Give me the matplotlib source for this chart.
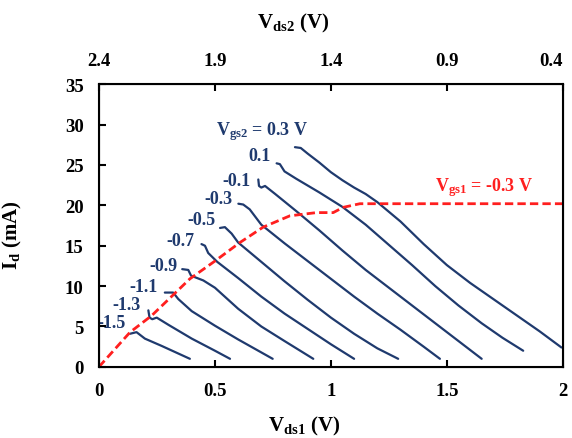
import numpy as np
import matplotlib
matplotlib.use('Agg')
import matplotlib.pyplot as plt

plt.rcParams.update({'font.family': 'Liberation Serif', 'font.weight': 'bold', 'font.size': 13,
                     'axes.labelweight': 'bold',
                     'mathtext.fontset': 'custom', 'mathtext.rm': 'Liberation Serif:bold',
                     'mathtext.it': 'Liberation Serif:bold', 'mathtext.bf': 'Liberation Serif:bold'})

# curvas Id x Vds1 para cada Vgs2
vgs2 = ['0.3', '0.1', '-0.1', '-0.3', '-0.5', '-0.7', '-0.9', '-1.1', '-1.3', '-1.5']
vds1 = [
    [0.845, 0.87, 0.90, 0.95, 1.0, 1.05, 1.10, 1.15, 1.20, 1.30, 1.40, 1.50, 1.60, 1.70, 1.80, 1.90, 1.994],
    [0.766, 0.78, 0.80, 0.85, 0.95, 1.05, 1.15, 1.25, 1.35, 1.45, 1.55, 1.65, 1.74, 1.829],
    [0.687, 0.69, 0.70, 0.716, 0.76, 0.85, 0.95, 1.05, 1.15, 1.25, 1.35, 1.45, 1.55, 1.65],
    [0.601, 0.622, 0.65, 0.70, 0.80, 0.90, 1.0, 1.1, 1.2, 1.3, 1.4, 1.47],
    [0.522, 0.543, 0.572, 0.60, 0.70, 0.80, 0.90, 1.0, 1.1, 1.2, 1.29],
    [0.442, 0.457, 0.471, 0.51, 0.60, 0.70, 0.80, 0.90, 1.0, 1.10],
    [0.359, 0.385, 0.397, 0.414, 0.45, 0.50, 0.60, 0.70, 0.80, 0.924],
    [0.284, 0.32, 0.342, 0.40, 0.50, 0.60, 0.749],
    [0.213, 0.218, 0.23, 0.249, 0.30, 0.40, 0.50, 0.565],
    [0.134, 0.162, 0.198, 0.27, 0.392],
]
id_ma = [
    [27.2, 27.1, 26.4, 25.3, 24.1, 23.1, 22.2, 21.4, 20.4, 18.0, 15.2, 12.6, 10.4, 8.4, 6.4, 4.4, 2.4],
    [25.2, 25.1, 24.2, 23.3, 21.6, 19.8, 17.6, 15.1, 12.6, 10.0, 7.6, 5.4, 3.6, 2.0],
    [23.2, 22.4, 22.2, 22.4, 21.4, 19.3, 16.9, 14.4, 12.0, 9.8, 7.6, 5.4, 3.2, 1.0],
    [20.2, 20.1, 19.5, 17.6, 15.3, 13.1, 10.9, 8.7, 6.6, 4.6, 2.5, 1.0],
    [17.2, 17.3, 16.5, 15.4, 13.0, 10.6, 8.3, 6.1, 4.1, 2.3, 1.0],
    [15.2, 15.0, 14.1, 13.0, 11.0, 8.7, 6.6, 4.7, 2.8, 1.0],
    [12.1, 12.0, 11.3, 11.1, 10.7, 9.8, 7.2, 5.0, 3.2, 1.0],
    [9.2, 9.2, 8.4, 6.9, 5.1, 3.4, 1.0],
    [7.0, 6.1, 5.9, 6.1, 5.2, 3.5, 2.0, 1.0],
    [4.1, 4.3, 3.5, 2.6, 1.0],
]
# posicao dos rotulos (Vds1, Id)
lab_x = [0.703, 0.692, 0.593, 0.515, 0.44, 0.353, 0.277, 0.19, 0.119, 0.056]
lab_y = [29.2, 26.2, 23.1, 20.8, 18.2, 15.7, 12.5, 9.95, 7.67, 5.45]

# Vgs1 = -0.3 V
vgs1_x = [0.0, 0.134, 0.227, 0.392, 0.5, 0.608, 0.708, 0.823, 0.938, 1.01, 1.053, 1.125, 2.0]
vgs1_y = [0.0, 4.29, 6.34, 10.9, 13.1, 15.4, 17.3, 18.7, 19.1, 19.1, 19.75, 20.2, 20.2]

xticks = [0, 0.5, 1, 1.5, 2]
xticklabels = ['0', '0.5', '1', '1.5', '2']
vds2_labels = ['2.4', '1.9', '1.4', '0.9', '0.4']

azul = '#1f3a6e'
vermelho = '#ff1f1f'

fig = plt.figure(figsize=(5.72, 4.39), dpi=100)
ax = fig.add_axes([0.173, 0.162, 0.811, 0.644])

for i in range(len(vgs2)):
    ax.plot(vds1[i], id_ma[i], color=azul, lw=1.6, solid_capstyle='round', solid_joinstyle='round')
    txt = vgs2[i]
    if i == 0:
        txt = r'$\mathrm{V_{gs2}}$ = 0.3 V'
    ax.text(lab_x[i], lab_y[i], txt, color=azul, ha='center', va='center', fontsize=13, zorder=1)

ax.plot(vgs1_x, vgs1_y, color=vermelho, lw=2, linestyle=(0, (3, 1.5)))
ax.text(1.66, 22.3, r'$\mathrm{V_{gs1}}$ = -0.3 V', color=vermelho, ha='center', va='center', fontsize=13)

ax.set_xlim(0, 2)
ax.set_ylim(0, 35)
ax.set_xticks(xticks)
ax.set_xticklabels(xticklabels)
ax.set_yticks(np.arange(0, 36, 5))
ax.tick_params(direction='in', length=5, width=1.5, labelsize=13.5)
ax.tick_params(axis='x', pad=11)
ax.tick_params(axis='y', pad=11)
for s in ax.spines.values():
    s.set_linewidth(1.5)

ax.set_xlabel(r'$\mathrm{V_{ds1}}$ (V)', fontsize=15)
ax.xaxis.set_label_coords(0.442, -0.165)
ax.set_ylabel(r'$\mathrm{I_{d}}$ (mA)', fontsize=15)
ax.yaxis.set_label_coords(-0.162, 0.47)

ax2 = ax.twiny()
ax2.set_xlim(0, 2)
ax2.set_xticks(xticks)
ax2.set_xticklabels(vds2_labels)
ax2.tick_params(direction='in', length=5, width=1.5, labelsize=13.5, pad=11)
ax2.get_xticklabels()[-1].set_ha('right')
ax2.set_xlabel(r'$\mathrm{V_{ds2}}$ (V)', fontsize=15)
ax2.xaxis.set_label_coords(0.418, 1.2)

plt.savefig('out.png', dpi=100)
